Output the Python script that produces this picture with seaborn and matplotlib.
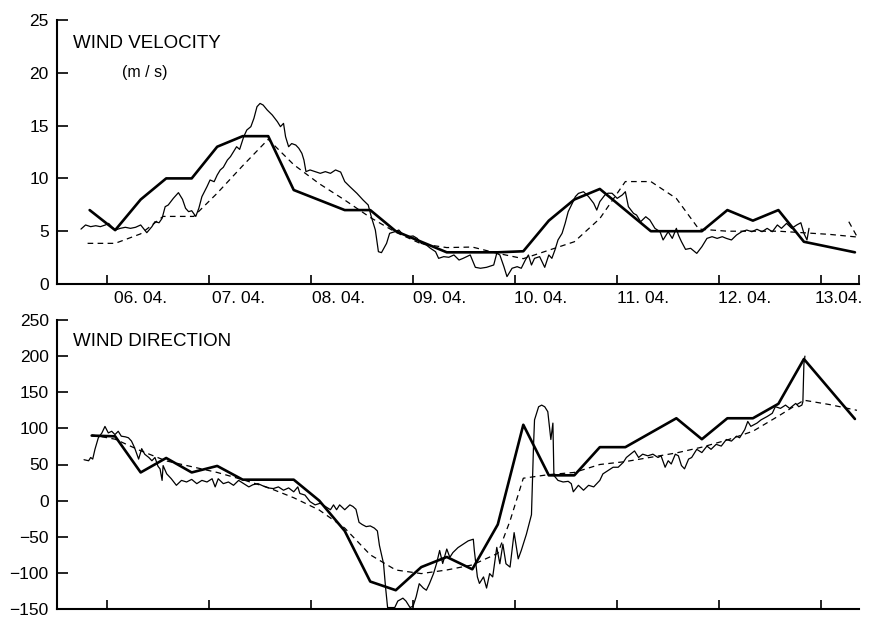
import matplotlib
matplotlib.use("Agg")
import matplotlib.pyplot as plt
import pandas as pd
import seaborn as sns

# Time axis: days after 06.04. 00:00
day_labels = ["06. 04.", "07. 04.", "08. 04.", "09. 04.", "10. 04.", "11. 04.", "12. 04.", "13.04."]

# ---- wind velocity (m/s) ----
vel_6h_t = [-0.17, 0.08, 0.33, 0.58, 0.83, 1.08, 1.33, 1.58, 1.83, 2.33, 2.58, 2.83, 3.08, 3.33,
            3.58, 3.83, 4.08, 4.33, 4.58, 4.83, 5.08, 5.33, 5.58, 5.83, 6.08, 6.33, 6.58, 6.83, 7.33]
vel_6h = [7.0, 5.1, 8.0, 10.0, 10.0, 13.0, 14.0, 14.0, 8.9, 7.0, 7.0, 5.0, 4.0, 3.0,
          3.0, 3.0, 3.1, 6.0, 8.0, 9.0, 7.0, 5.0, 5.0, 5.0, 7.0, 6.0, 7.0, 4.0, 3.0]

vel_model_t = [-0.19, 0.08, 0.33, 0.55, 0.85, 1.08, 1.33, 1.58, 1.83, 2.08, 2.33, 2.58, 2.83, 3.08,
               3.33, 3.58, 3.83, 4.08, 4.33, 4.58, 4.83, 5.08, 5.33, 5.58, 5.80, 6.08, 6.33, 6.58,
               6.83, 7.08, 7.35]
vel_model = [3.85, 3.85, 4.75, 6.4, 6.4, 8.6, 11.2, 13.7, 11.3, 9.5, 7.95, 6.3, 4.9, 3.8,
             3.45, 3.5, 2.9, 2.4, 3.2, 4.0, 6.2, 9.7, 9.7, 8.1, 5.2, 5.0, 5.0, 5.0,
             4.85, 4.7, 4.45]
vel_model_tail_t = [7.27, 7.35]
vel_model_tail = [5.9, 4.5]

vel_obs_t = [-0.255, -0.21, -0.16, -0.11, -0.065, -0.016, 0.016, 0.05, 0.08, 0.13, 0.18, 0.23, 0.28,
             0.33, 0.37, 0.39, 0.44, 0.47, 0.51, 0.54, 0.57, 0.60, 0.65, 0.70, 0.74, 0.77, 0.80,
             0.83, 0.87, 0.90, 0.93, 0.98, 1.01, 1.05, 1.08, 1.11, 1.14, 1.18, 1.21, 1.24, 1.27,
             1.30, 1.34, 1.37, 1.41, 1.44, 1.47, 1.50, 1.53, 1.57, 1.62, 1.67, 1.70, 1.73, 1.75,
             1.78, 1.81, 1.85, 1.88, 1.91, 1.93, 1.95, 1.99, 2.04, 2.09, 2.14, 2.19, 2.24, 2.29,
             2.33, 2.38, 2.45, 2.51, 2.56, 2.59, 2.63, 2.66, 2.69, 2.74, 2.77, 2.82, 2.86, 2.89,
             2.92, 2.95, 3.00, 3.04, 3.08, 3.13, 3.17, 3.22, 3.25, 3.30, 3.35, 3.40, 3.45, 3.49,
             3.56, 3.61, 3.66, 3.72, 3.79, 3.82, 3.85, 3.89, 3.92, 3.97, 4.02, 4.06, 4.10, 4.13,
             4.16, 4.19, 4.24, 4.29, 4.33, 4.36, 4.39, 4.42, 4.46, 4.49, 4.52, 4.56, 4.59, 4.62,
             4.67, 4.72, 4.77, 4.80, 4.83, 4.88, 4.91, 4.95, 5.00, 5.05, 5.08, 5.11, 5.16, 5.19,
             5.23, 5.28, 5.32, 5.37, 5.42, 5.45, 5.50, 5.54, 5.58, 5.60, 5.63, 5.67, 5.72, 5.78,
             5.83, 5.88, 5.93, 5.98, 6.03, 6.07, 6.12, 6.17, 6.22, 6.27, 6.32, 6.37, 6.42, 6.47,
             6.52, 6.57, 6.61, 6.66, 6.71, 6.76, 6.80, 6.83, 6.86, 6.88]
vel_obs = [5.2, 5.59, 5.43, 5.52, 5.43, 5.59, 5.74, 5.37, 5.11, 5.27, 5.37, 5.27, 5.37,
           5.59, 5.11, 4.86, 5.43, 5.9, 5.8, 6.22, 7.32, 7.48, 8.11, 8.65, 8.02, 7.17, 6.85,
           6.94, 6.4, 7.17, 8.27, 9.22, 9.85, 9.69, 10.32, 10.8, 11.05, 11.74, 12.06, 12.53, 13.0,
           12.75, 13.95, 14.58, 14.9, 15.69, 16.79, 17.1, 16.95, 16.48, 16.0, 15.37, 14.9, 15.21, 13.95,
           13.0, 13.3, 13.16, 12.85, 12.37, 11.74, 10.64, 10.8, 10.64, 10.48, 10.64, 10.48, 10.8, 10.6,
           9.7, 9.22, 8.58, 7.95, 7.48, 6.38, 5.11, 3.06, 2.97, 3.85, 4.8, 4.95, 5.11, 4.8,
           4.64, 4.48, 4.55, 4.32, 3.85, 3.69, 3.38, 3.06, 2.43, 2.59, 2.53, 2.75, 2.27, 2.43,
           2.75, 1.58, 1.49, 1.58, 1.8, 2.91, 2.75, 1.64, 0.7, 1.49, 1.64, 1.49, 2.27, 2.75,
           1.8, 2.43, 2.59, 1.58, 2.75, 2.43, 3.22, 4.17, 4.8, 5.74, 6.85, 7.64, 8.27, 8.58,
           8.74, 8.27, 7.64, 7.0, 7.8, 8.43, 8.6, 8.59, 8.11, 8.43, 8.74, 7.32, 6.69, 6.53,
           5.9, 6.37, 6.06, 5.27, 4.95, 4.17, 4.95, 4.32, 5.27, 4.64, 4.01, 3.28, 3.38, 2.9,
           3.53, 4.32, 4.48, 4.32, 4.48, 4.32, 4.17, 4.64, 4.95, 5.11, 4.95, 5.18, 4.95, 5.27,
           4.95, 5.59, 5.27, 5.74, 5.27, 5.59, 5.8, 4.8, 4.17, 5.27]

# ---- wind direction (degrees) ----
dir_6h_t = [-0.15, 0.08, 0.33, 0.58, 0.83, 1.08, 1.33, 1.83, 2.08, 2.33, 2.58, 2.83, 3.08, 3.33,
            3.58, 3.83, 4.08, 4.33, 4.58, 4.83, 5.08, 5.58, 5.83, 6.08, 6.33, 6.58, 6.83, 7.33]
dir_6h = [90, 89, 39, 59, 39, 48, 29, 29, 0, -42, -112, -124, -92, -78,
          -95, -33, 105, 35, 35, 74, 74, 114, 85, 114, 114, 134, 196, 113]

dir_model_t = [-0.15, 0.08, 0.33, 0.58, 0.83, 1.08, 1.33, 1.58, 1.83, 2.08, 2.33, 2.58, 2.83, 3.08,
               3.33, 3.58, 3.83, 3.95, 4.08, 4.33, 4.58, 4.83, 5.08, 5.33, 5.58, 5.83, 6.08, 6.33,
               6.58, 6.83, 7.08, 7.35]
dir_model = [91, 85, 69, 55, 47, 39, 29, 18, 4, -13, -38, -75, -96, -101,
             -96, -89, -73, -28, 31, 36, 39, 50, 54, 60, 66, 74, 84, 96,
             117, 139, 133, 125]

dir_obs_t = [-0.225, -0.18, -0.16, -0.14, -0.118, -0.085, -0.05, -0.02, 0.013, 0.046, 0.078, 0.11,
             0.14, 0.18, 0.21, 0.24, 0.27, 0.31, 0.34, 0.37, 0.41, 0.44, 0.47, 0.50, 0.52, 0.54,
             0.55, 0.585, 0.63, 0.68, 0.73, 0.78, 0.83, 0.88, 0.93, 0.98, 1.03, 1.06, 1.09, 1.14,
             1.19, 1.24, 1.29, 1.34, 1.39, 1.43, 1.48, 1.53, 1.58, 1.63, 1.68, 1.73, 1.78, 1.83,
             1.87, 1.89, 1.94, 1.99, 2.04, 2.09, 2.14, 2.19, 2.22, 2.25, 2.28, 2.33, 2.38, 2.41,
             2.44, 2.47, 2.50, 2.54, 2.58, 2.62, 2.65, 2.67, 2.71, 2.73, 2.75, 2.82, 2.85, 2.90,
             2.93, 2.97, 3.00, 3.03, 3.06, 3.10, 3.13, 3.16, 3.20, 3.23, 3.26, 3.29, 3.33, 3.36,
             3.39, 3.44, 3.49, 3.54, 3.59, 3.60, 3.63, 3.65, 3.69, 3.72, 3.75, 3.78, 3.82, 3.85,
             3.88, 3.91, 3.95, 3.99, 4.03, 4.06, 4.11, 4.16, 4.18, 4.19, 4.23, 4.26, 4.29, 4.32,
             4.35, 4.37, 4.38, 4.42, 4.47, 4.52, 4.55, 4.57, 4.62, 4.67, 4.72, 4.77, 4.83, 4.86,
             4.91, 4.96, 5.01, 5.06, 5.09, 5.13, 5.17, 5.21, 5.25, 5.30, 5.35, 5.40, 5.43, 5.47,
             5.50, 5.53, 5.57, 5.60, 5.63, 5.66, 5.70, 5.73, 5.78, 5.83, 5.88, 5.92, 5.97, 6.02,
             6.07, 6.12, 6.17, 6.20, 6.25, 6.28, 6.31, 6.37, 6.41, 6.47, 6.52, 6.55, 6.60, 6.65,
             6.69, 6.75, 6.78, 6.81, 6.82, 6.83, 6.84]
dir_obs = [56.6, 55.2, 59.7, 57.5, 71, 87, 93.7, 102.7, 93.7, 96, 91.4, 96,
           89.2, 88.3, 87, 82.4, 73.3, 57.5, 71.9, 64.2, 59.7, 55.2, 59.7, 47.5, 43.9, 28,
           48.5, 37.1, 30.3, 21.2, 28, 25.8, 29.4, 23.5, 28, 25.8, 30.3, 19, 30.3, 23.5,
           25.8, 21.2, 28, 23.5, 19, 22, 23.5, 20.3, 17.6, 16.7, 19, 14.4, 17.6, 12.2,
           19, 9.9, 7.7, -1.4, -5.9, -3.6, -8.1, -12.6, -5.9, -12.6, -5.9, -12.6, -5.9, -8.1,
           -12, -30, -33, -36, -35, -38, -42, -62, -87, -120, -148, -148, -139, -135,
           -139, -148, -146, -133, -115, -121, -124, -115, -101, -87, -69, -87, -67, -78.5,
           -71.9, -65, -60.3, -55.7, -53.4, -69, -105.6, -114.6, -105.6, -121, -101, -105.6, -64.7, -87.4,
           -60.3, -87.4, -92, -44.3, -80.6, -69, -46.6, -19.5, 75.5, 111.8, 129.9, 132.2, 129.9, 123.1,
           84.6, 107.3, 34.8, 28, 25.8, 26.7, 23.5, 12.2, 21.2, 14.4, 21.2, 19, 28, 37,
           41.6, 46.2, 46.2, 53, 59.7, 64.3, 68.8, 59.7, 64.3, 62, 64.3, 59.7, 62, 46.2,
           55.2, 50.7, 64.3, 62, 48.5, 44, 57.5, 59.7, 71, 66.5, 75.5, 71, 77.9, 75.5,
           84.6, 82.4, 89.2, 87, 98.2, 109.6, 102.8, 107.3, 111.8, 116.4, 120.9, 130, 127.7, 132.2,
           127.7, 134.5, 130, 132.2, 136.8, 188.9, 200]

sns.set_style("ticks")
plt.rcParams["font.family"] = ["Liberation Sans", "DejaVu Sans"]
plt.rcParams.update({
    "axes.linewidth": 1.5,
    "axes.edgecolor": "black",
    "text.color": "black",
    "axes.labelcolor": "black",
    "xtick.color": "black",
    "ytick.color": "black",
})

fig = plt.figure(figsize=(8.69, 6.2), dpi=100)
ax_v = fig.add_axes([57 / 869, 1 - 284 / 620, 802 / 869, 264 / 620])
ax_d = fig.add_axes([57 / 869, 1 - 609 / 620, 802 / 869, 289 / 620])

INK = "black"
THICK, THIN, DASH = 1.9, 0.9, 0.9
dash_style = (0, (4.5, 3.5))


def draw(ax, t, v, **kw):
    df = pd.DataFrame({"t": t, "v": v})
    sns.lineplot(data=df, x="t", y="v", ax=ax, color=INK, estimator=None,
                 sort=False, legend=False, **kw)


draw(ax_v, vel_obs_t, vel_obs, lw=THIN)
draw(ax_v, vel_model_t, vel_model, lw=DASH, linestyle=dash_style)
draw(ax_v, vel_model_tail_t, vel_model_tail, lw=DASH, linestyle=dash_style)
draw(ax_v, vel_6h_t, vel_6h, lw=THICK)

draw(ax_d, dir_obs_t, dir_obs, lw=THIN)
draw(ax_d, dir_model_t, dir_model, lw=DASH, linestyle=dash_style)
draw(ax_d, dir_6h_t, dir_6h, lw=THICK)

x_lo, x_hi = -0.49, 7.37
days = list(range(8))
label_pos = [0.33, 1.29, 2.27, 3.26, 4.25, 5.25, 6.25, 7.17]

for ax in (ax_v, ax_d):
    ax.set_xlim(x_lo, x_hi)
    ax.set_xlabel("")
    ax.set_ylabel("")
    sns.despine(ax=ax)
    ax.tick_params(axis="y", direction="in", length=8, width=1.2, labelsize=12.5, pad=6)
    ax.tick_params(axis="x", which="major", direction="in", length=6.5, width=1.2,
                   labelbottom=False)

ax_v.set_ylim(0, 25)
ax_v.set_yticks([0, 5, 10, 15, 20, 25])
ax_v.set_xticks(days + [x_hi])
ax_v.set_xticks(label_pos, minor=True)
ax_v.set_xticklabels(day_labels, minor=True)
ax_v.tick_params(axis="x", which="minor", length=0, labelsize=12.5, pad=5)

ax_d.set_ylim(-150, 250)
ax_d.set_yticks(list(range(-150, 251, 50)))
ax_d.set_xticks(days)

ax_v.text(0.02, 22.8, "WIND VELOCITY", transform=ax_v.get_yaxis_transform(),
          fontsize=13.5, va="center", ha="left")
ax_v.text(0.11, 20.0, "(m / s)", transform=ax_v.get_yaxis_transform(),
          fontsize=11.5, va="center", ha="center")
ax_d.text(0.02, 220, "WIND DIRECTION", transform=ax_d.get_yaxis_transform(),
          fontsize=13.5, va="center", ha="left")

fig.savefig("out.png", dpi=100)
